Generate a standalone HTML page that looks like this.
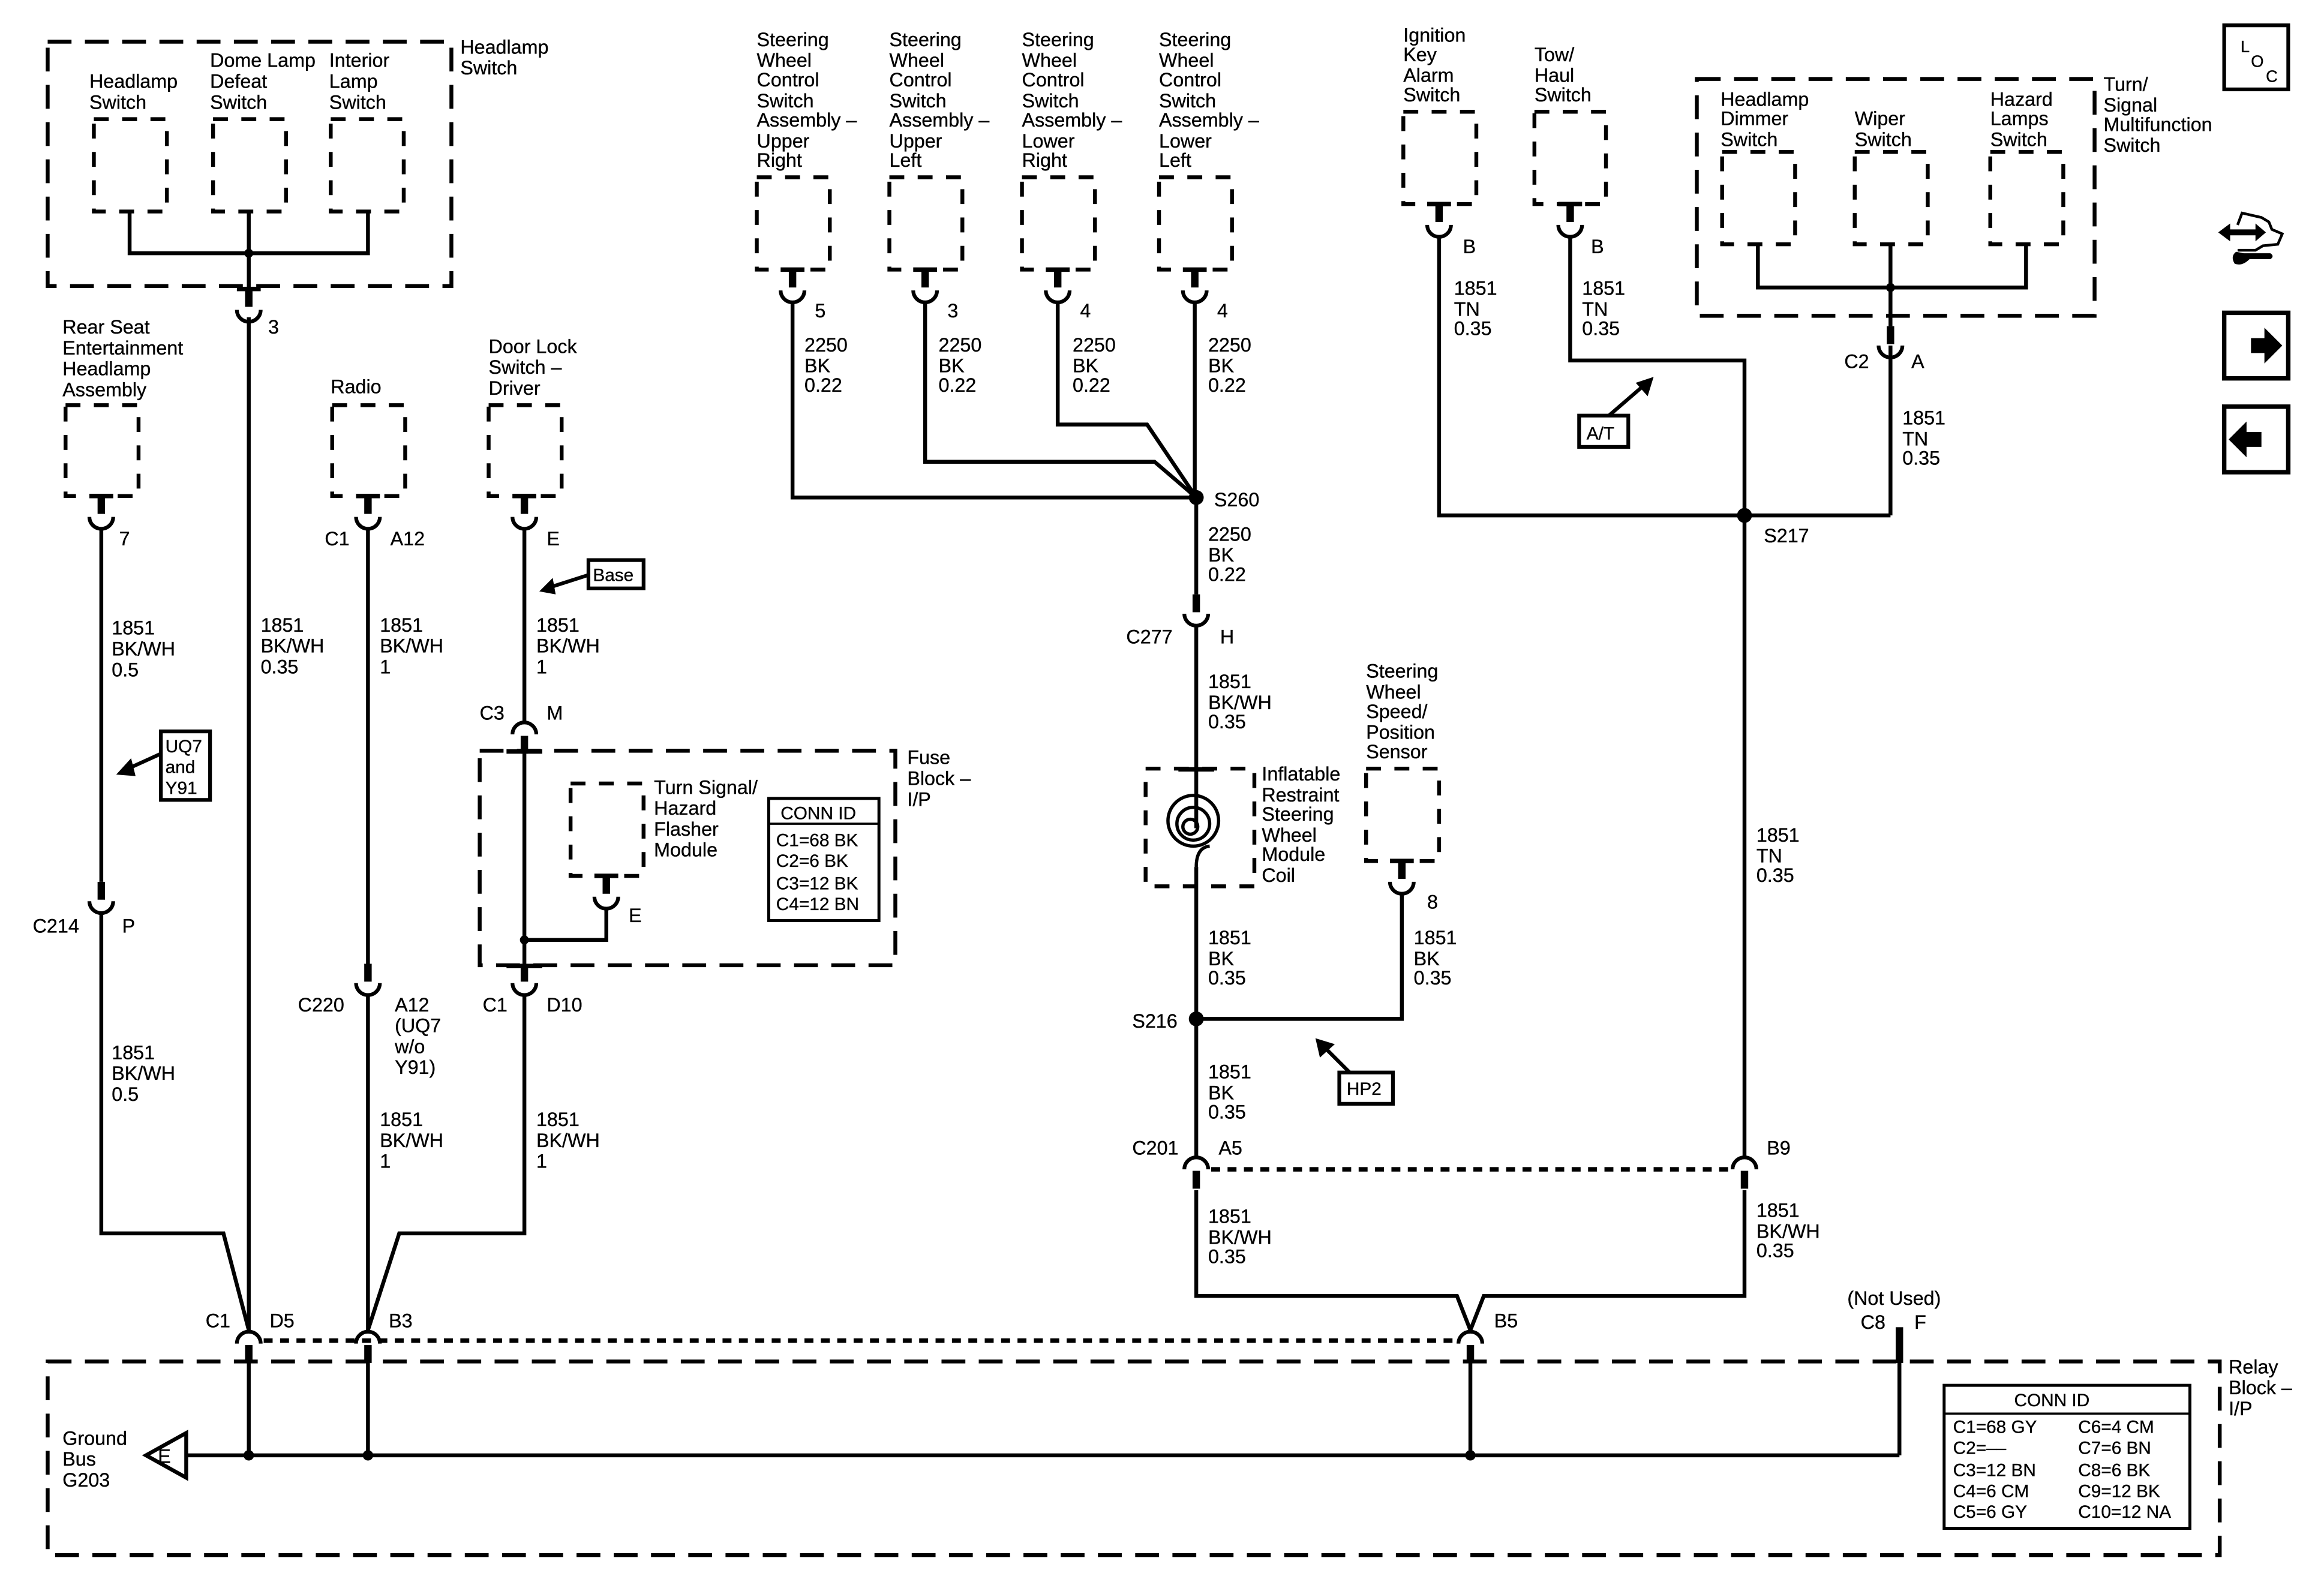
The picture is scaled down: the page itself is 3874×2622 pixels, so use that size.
<!DOCTYPE html>
<html><head><meta charset="utf-8"><style>
html,body{margin:0;padding:0;background:#fff}
svg{display:block}
text{font-family:"Liberation Sans",Arial,sans-serif;font-size:13px;fill:#000;stroke:#000;stroke-width:0.15}
</style></head><body>
<svg width="3874" height="2622" viewBox="0 0 1560 1056" preserveAspectRatio="none" xmlns="http://www.w3.org/2000/svg">
<defs>
<g id="ca"><rect x="-2.5" y="-13" width="5" height="12"/><path d="M-8 0 A8 8 0 0 0 8 0" fill="none" stroke="#000" stroke-width="2.5"/></g>
<g id="cb"><path d="M-8 9 A8 8 0 0 1 8 9" fill="none" stroke="#000" stroke-width="2.5"/><rect x="-2.5" y="10" width="5" height="12"/></g>
<g id="pin"><rect x="-8" y="-1.5" width="16" height="3"/><rect x="-2.5" y="0" width="5" height="12"/><path d="M-8 14 A8 8 0 0 0 8 14" fill="none" stroke="#000" stroke-width="2.5"/></g>
</defs>
<rect width="1560" height="1056" fill="#fff"/>

<g fill="none" stroke="#000" stroke-width="2.6" stroke-dasharray="16 9">
<rect x="32" y="28" width="271" height="164"/>
<rect x="322" y="504" width="279" height="144"/>
<rect x="1139" y="53" width="267" height="159"/>
<rect x="32" y="914" width="1458" height="130"/>
</g>
<g fill="none" stroke="#000" stroke-width="2.6" stroke-dasharray="10 9">
<rect x="63" y="80" width="49" height="62"/>
<rect x="143" y="80" width="49" height="62"/>
<rect x="222" y="80" width="49" height="62"/>
<rect x="44" y="272" width="49" height="61"/>
<rect x="223" y="272" width="49" height="61"/>
<rect x="328" y="272" width="49" height="61"/>
<rect x="383" y="526" width="49" height="62"/>
<rect x="508" y="119" width="49" height="62"/>
<rect x="597" y="119" width="49" height="62"/>
<rect x="686" y="119" width="49" height="62"/>
<rect x="778" y="119" width="49" height="62"/>
<rect x="769" y="516" width="73" height="79"/>
<rect x="917" y="516" width="49" height="62"/>
<rect x="942" y="75" width="49" height="62"/>
<rect x="1030" y="75" width="48" height="62"/>
<rect x="1156" y="102" width="49" height="62"/>
<rect x="1245" y="102" width="49" height="62"/>
<rect x="1336" y="102" width="49" height="62"/>
</g>

<g fill="none" stroke="#000" stroke-width="2.6">
<path d="M87 142V170H247V142M167 142V170M167 170V196"/>
<path d="M167 213V893"/>
<path d="M68 355V592M68 613V828H150L167 893"/>
<path d="M247 355V647M247 668V893"/>
<path d="M352 355V484M352 506V647M352 668V828H268L247 893"/>
<path d="M407 610V631H352"/>
<path d="M532 203V334H803M621 203V310H775L803 334M710 203V285H770L803 334M802 203V334"/>
<path d="M803 334V399M803 420V516M803 582V776"/>
<path d="M941 600V684H803"/>
<path d="M1171 346V776"/>
<path d="M803 799V870H978L987 893M1171 799V870H996L987 893"/>
<path d="M966 159V346H1269M1054 159V242H1171V346M1269 232V346"/>
<path d="M1180 164V193H1360V164M1269 164V219"/>
<path d="M167 915V977M247 915V977M987 915V977M1275 914V977M125 977H1275"/>
<path d="M98 977L125 962V992Z"/>
<path d="M803 516V556"/>
</g>
<g fill="none" stroke="#000" stroke-width="3" stroke-dasharray="6 5">
<path d="M177 900H977"/>
<path d="M813 785H1161"/>
</g>

<!-- spiral -->
<g fill="none" stroke="#000" stroke-width="2.2">
<circle cx="801" cy="551" r="17"/>
<circle cx="801" cy="553" r="11"/>
<circle cx="799" cy="555" r="5"/>
<path d="M803 582 Q803 569 812 568"/>
</g>

<use href="#pin" x="167" y="194"/>
<use href="#pin" x="68" y="333"/>
<use href="#pin" x="247" y="333"/>
<use href="#pin" x="352" y="333"/>
<use href="#pin" x="407" y="588"/>
<use href="#pin" x="532" y="181"/>
<use href="#pin" x="621" y="181"/>
<use href="#pin" x="710" y="181"/>
<use href="#pin" x="802" y="181"/>
<use href="#pin" x="941" y="578"/>
<use href="#pin" x="966" y="137"/>
<use href="#pin" x="1054" y="137"/>
<use href="#ca" x="1269" y="232"/>
<use href="#ca" x="68" y="605"/>
<use href="#ca" x="247" y="660"/>
<use href="#ca" x="352" y="660"/>
<use href="#ca" x="803" y="412"/>
<use href="#cb" x="352" y="484"/>
<use href="#cb" x="803" y="776"/>
<use href="#cb" x="1171" y="776"/>
<use href="#cb" x="167" y="893"/>
<use href="#cb" x="247" y="893"/>
<use href="#cb" x="987" y="893"/>
<rect x="1272.5" y="891" width="5" height="24"/>
<rect x="340" y="503" width="24" height="3"/>
<rect x="340" y="647" width="24" height="3"/>
<rect x="791" y="515" width="24" height="3"/>

<g>
<circle cx="167" cy="170" r="3"/><circle cx="352" cy="631" r="3"/>
<circle cx="803" cy="334" r="5"/><circle cx="1171" cy="346" r="5"/>
<circle cx="803" cy="684" r="5"/><circle cx="1269" cy="193" r="3"/>
<circle cx="167" cy="977" r="3.5"/><circle cx="247" cy="977" r="3.5"/><circle cx="987" cy="977" r="3.5"/>
</g>

<g fill="#fff" stroke="#000" stroke-width="2.5">
<rect x="108" y="491" width="33" height="46"/>
<rect x="395" y="376" width="37" height="19"/>
<rect x="899" y="720" width="36" height="21"/>
<rect x="1060" y="279" width="33" height="21"/>
<rect x="516" y="536" width="74" height="82" stroke-width="2"/>
<rect x="1305" y="930" width="165" height="96" stroke-width="2"/>
</g>
<path d="M516 553H590M1305 949H1470" stroke="#000" stroke-width="1.5"/>
<g stroke="#000" stroke-width="2.5">
<line x1="108" y1="506" x2="86" y2="516"/>
<line x1="395" y1="386" x2="370" y2="394"/>
<line x1="906" y1="720" x2="890" y2="704"/>
<line x1="1080" y1="279" x2="1102" y2="260"/>
</g>
<path d="M78 520L88 509L91 521Z M362 397L371 388L373 399Z M883 697L896 701L886 710Z M1110 253L1098 257L1106 266Z"/>

<g fill="none" stroke="#000" stroke-width="3">
<rect x="1493" y="17" width="43" height="43" stroke-width="2.5"/>
<rect x="1493" y="210" width="43" height="44"/>
<rect x="1493" y="273" width="43" height="44"/>
</g>
<text x="1504" y="35" style="font-size:11px">L</text>
<text x="1511" y="45" style="font-size:11px">O</text>
<text x="1521" y="55" style="font-size:11px">C</text>
<path d="M1511 227H1520V220L1532 232L1520 244V237H1511Z"/>
<path d="M1518 290H1508V283L1496 295L1508 307V300H1518Z"/>
<path d="M1489 156L1497 150V154H1514V150L1521 156L1514 162V158H1497V162Z"/>
<path d="M1502 151L1505 143L1518 146L1523 149L1525 154L1532 157L1529 164L1519 165L1514 168H1502" fill="none" stroke="#000" stroke-width="1.8"/>
<path d="M1506 170H1524Q1527 172 1524 174H1510Q1505 179 1500 177Q1497 172 1501 169L1506 170Z"/>

<g>
<text x="309" y="36">Headlamp</text><text x="309" y="50">Switch</text>
<text x="60" y="59">Headlamp</text><text x="60" y="73">Switch</text>
<text x="141" y="45">Dome Lamp</text><text x="141" y="59">Defeat</text><text x="141" y="73">Switch</text>
<text x="221" y="45">Interior</text><text x="221" y="59">Lamp</text><text x="221" y="73">Switch</text>
<text x="180" y="224">3</text>
<text x="42" y="224">Rear Seat</text><text x="42" y="238">Entertainment</text><text x="42" y="252">Headlamp</text><text x="42" y="266">Assembly</text>
<text x="222" y="264">Radio</text>
<text x="328" y="237">Door Lock</text><text x="328" y="251">Switch –</text><text x="328" y="265">Driver</text>
<text x="80" y="366">7</text>
<text x="218" y="366">C1</text><text x="262" y="366">A12</text>
<text x="367" y="366">E</text>
<text x="398" y="390" style="font-size:12px">Base</text>
<text x="75" y="426">1851</text><text x="75" y="440">BK/WH</text><text x="75" y="454">0.5</text>
<text x="175" y="424">1851</text><text x="175" y="438">BK/WH</text><text x="175" y="452">0.35</text>
<text x="255" y="424">1851</text><text x="255" y="438">BK/WH</text><text x="255" y="452">1</text>
<text x="360" y="424">1851</text><text x="360" y="438">BK/WH</text><text x="360" y="452">1</text>
<text x="322" y="483">C3</text><text x="367" y="483">M</text>
<text x="111" y="505" style="font-size:12px">UQ7</text><text x="111" y="519" style="font-size:12px">and</text><text x="111" y="533" style="font-size:12px">Y91</text>
<text x="609" y="513">Fuse</text><text x="609" y="527">Block –</text><text x="609" y="541">I/P</text>
<text x="439" y="533">Turn Signal/</text><text x="439" y="547">Hazard</text><text x="439" y="561">Flasher</text><text x="439" y="575">Module</text>
<text x="524" y="550" style="font-size:12px">CONN ID</text>
<text x="521" y="568" style="font-size:12px">C1=68 BK</text><text x="521" y="582" style="font-size:12px">C2=6 BK</text><text x="521" y="597" style="font-size:12px">C3=12 BK</text><text x="521" y="611" style="font-size:12px">C4=12 BN</text>
<text x="422" y="619">E</text>
<text x="22" y="626">C214</text><text x="82" y="626">P</text>
<text x="200" y="679">C220</text><text x="265" y="679">A12</text><text x="265" y="693">(UQ7</text><text x="265" y="707">w/o</text><text x="265" y="721">Y91)</text>
<text x="324" y="679">C1</text><text x="367" y="679">D10</text>
<text x="75" y="711">1851</text><text x="75" y="725">BK/WH</text><text x="75" y="739">0.5</text>
<text x="255" y="756">1851</text><text x="255" y="770">BK/WH</text><text x="255" y="784">1</text>
<text x="360" y="756">1851</text><text x="360" y="770">BK/WH</text><text x="360" y="784">1</text>
<text x="138" y="891">C1</text><text x="181" y="891">D5</text><text x="261" y="891">B3</text>
<text x="42" y="970">Ground</text><text x="42" y="984">Bus</text><text x="42" y="998">G203</text>
<text x="106" y="982">E</text>

<text x="508" y="31">Steering</text><text x="508" y="45">Wheel</text><text x="508" y="58">Control</text><text x="508" y="72">Switch</text><text x="508" y="85">Assembly –</text><text x="508" y="99">Upper</text><text x="508" y="112">Right</text>
<text x="597" y="31">Steering</text><text x="597" y="45">Wheel</text><text x="597" y="58">Control</text><text x="597" y="72">Switch</text><text x="597" y="85">Assembly –</text><text x="597" y="99">Upper</text><text x="597" y="112">Left</text>
<text x="686" y="31">Steering</text><text x="686" y="45">Wheel</text><text x="686" y="58">Control</text><text x="686" y="72">Switch</text><text x="686" y="85">Assembly –</text><text x="686" y="99">Lower</text><text x="686" y="112">Right</text>
<text x="778" y="31">Steering</text><text x="778" y="45">Wheel</text><text x="778" y="58">Control</text><text x="778" y="72">Switch</text><text x="778" y="85">Assembly –</text><text x="778" y="99">Lower</text><text x="778" y="112">Left</text>
<text x="547" y="213">5</text><text x="636" y="213">3</text><text x="725" y="213">4</text><text x="817" y="213">4</text>
<text x="540" y="236">2250</text><text x="540" y="250">BK</text><text x="540" y="263">0.22</text>
<text x="630" y="236">2250</text><text x="630" y="250">BK</text><text x="630" y="263">0.22</text>
<text x="720" y="236">2250</text><text x="720" y="250">BK</text><text x="720" y="263">0.22</text>
<text x="811" y="236">2250</text><text x="811" y="250">BK</text><text x="811" y="263">0.22</text>
<text x="815" y="340">S260</text>
<text x="811" y="363">2250</text><text x="811" y="377">BK</text><text x="811" y="390">0.22</text>
<text x="756" y="432">C277</text><text x="819" y="432">H</text>
<text x="811" y="462">1851</text><text x="811" y="476">BK/WH</text><text x="811" y="489">0.35</text>
<text x="917" y="455">Steering</text><text x="917" y="469">Wheel</text><text x="917" y="482">Speed/</text><text x="917" y="496">Position</text><text x="917" y="509">Sensor</text>
<text x="847" y="524">Inflatable</text><text x="847" y="538">Restraint</text><text x="847" y="551">Steering</text><text x="847" y="565">Wheel</text><text x="847" y="578">Module</text><text x="847" y="592">Coil</text>
<text x="958" y="610">8</text>
<text x="811" y="634">1851</text><text x="811" y="648">BK</text><text x="811" y="661">0.35</text>
<text x="949" y="634">1851</text><text x="949" y="648">BK</text><text x="949" y="661">0.35</text>
<text x="760" y="690">S216</text>
<text x="904" y="735" style="font-size:12px">HP2</text>
<text x="811" y="724">1851</text><text x="811" y="738">BK</text><text x="811" y="751">0.35</text>
<text x="760" y="775">C201</text><text x="818" y="775">A5</text><text x="1186" y="775">B9</text>
<text x="811" y="821">1851</text><text x="811" y="835">BK/WH</text><text x="811" y="848">0.35</text>
<text x="1179" y="817">1851</text><text x="1179" y="831">BK/WH</text><text x="1179" y="844">0.35</text>
<text x="1003" y="891">B5</text>
<text x="1240" y="876">(Not Used)</text><text x="1249" y="892">C8</text><text x="1285" y="892">F</text>
<text x="1496" y="922">Relay</text><text x="1496" y="936">Block –</text><text x="1496" y="950">I/P</text>
<text x="1352" y="944" style="font-size:12px">CONN ID</text>
<text x="1311" y="962" style="font-size:12px">C1=68 GY</text><text x="1311" y="976" style="font-size:12px">C2=––</text><text x="1311" y="991" style="font-size:12px">C3=12 BN</text><text x="1311" y="1005" style="font-size:12px">C4=6 CM</text><text x="1311" y="1019" style="font-size:12px">C5=6 GY</text>
<text x="1395" y="962" style="font-size:12px">C6=4 CM</text><text x="1395" y="976" style="font-size:12px">C7=6 BN</text><text x="1395" y="991" style="font-size:12px">C8=6 BK</text><text x="1395" y="1005" style="font-size:12px">C9=12 BK</text><text x="1395" y="1019" style="font-size:12px">C10=12 NA</text>

<text x="942" y="28">Ignition</text><text x="942" y="41">Key</text><text x="942" y="55">Alarm</text><text x="942" y="68">Switch</text>
<text x="1030" y="41">Tow/</text><text x="1030" y="55">Haul</text><text x="1030" y="68">Switch</text>
<text x="982" y="170">B</text><text x="1068" y="170">B</text>
<text x="976" y="198">1851</text><text x="976" y="212">TN</text><text x="976" y="225">0.35</text>
<text x="1062" y="198">1851</text><text x="1062" y="212">TN</text><text x="1062" y="225">0.35</text>
<text x="1065" y="295" style="font-size:12px">A/T</text>
<text x="1184" y="364">S217</text>
<text x="1179" y="565">1851</text><text x="1179" y="579">TN</text><text x="1179" y="592">0.35</text>
<text x="1155" y="71">Headlamp</text><text x="1155" y="84">Dimmer</text><text x="1155" y="98">Switch</text>
<text x="1245" y="84">Wiper</text><text x="1245" y="98">Switch</text>
<text x="1336" y="71">Hazard</text><text x="1336" y="84">Lamps</text><text x="1336" y="98">Switch</text>
<text x="1412" y="61">Turn/</text><text x="1412" y="75">Signal</text><text x="1412" y="88">Multifunction</text><text x="1412" y="102">Switch</text>
<text x="1238" y="247">C2</text><text x="1283" y="247">A</text>
<text x="1277" y="285">1851</text><text x="1277" y="299">TN</text><text x="1277" y="312">0.35</text>
</g>
</svg>
</body></html>
